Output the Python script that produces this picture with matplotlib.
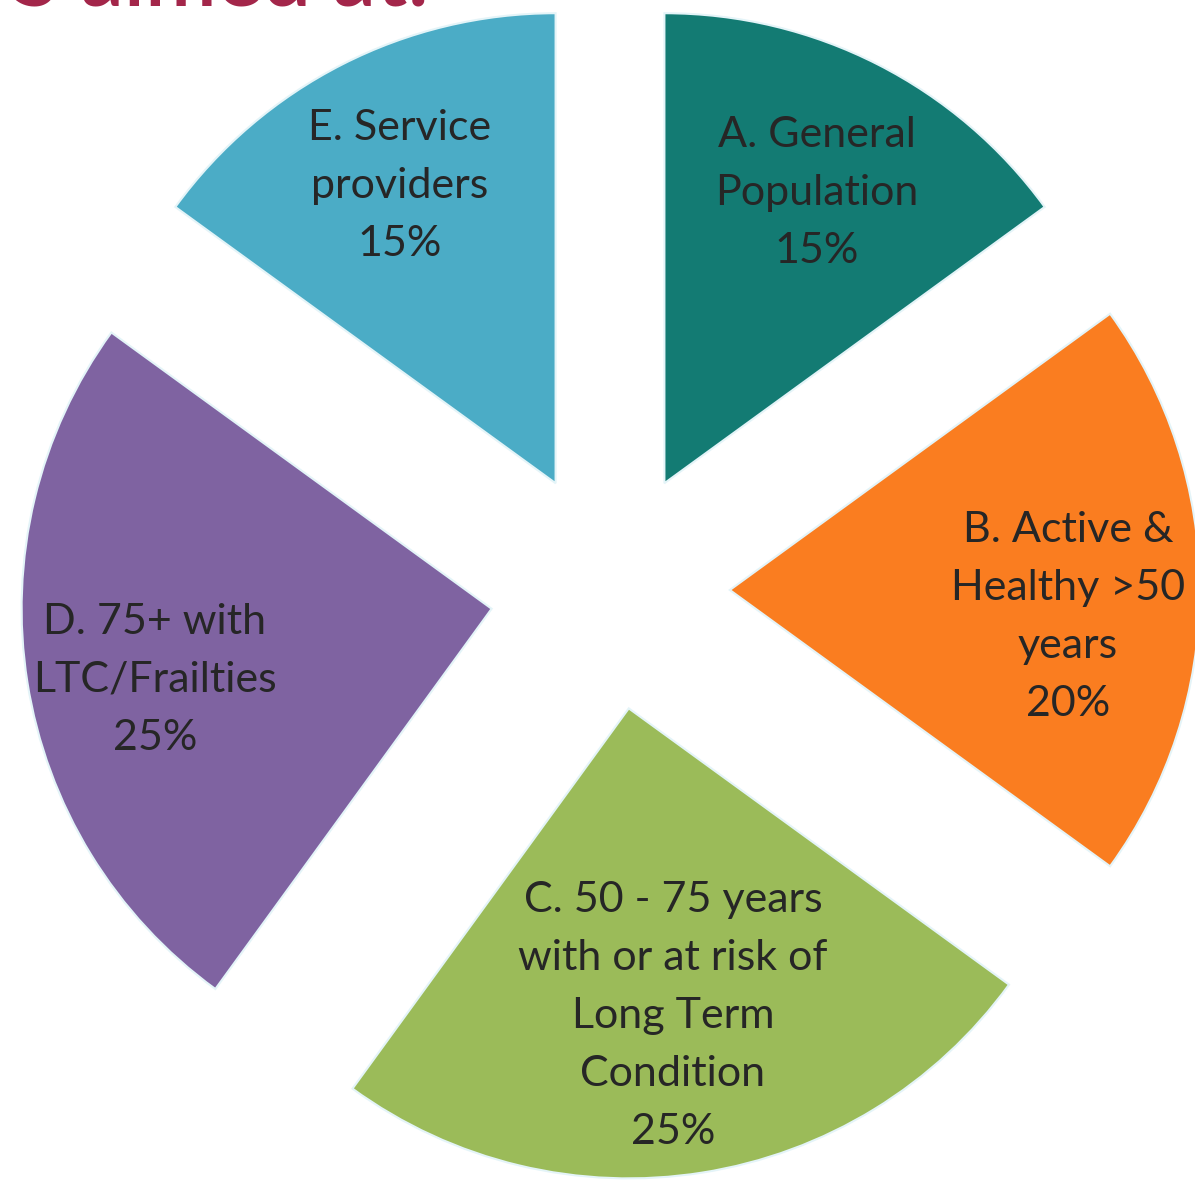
import numpy as np
import matplotlib.pyplot as plt

### Data ###
labels = ["A. General\nPopulation\n15%",
          "B. Active &\nHealthy >50\nyears\n20%",
          "C. 50 - 75 years\nwith or at risk of\nLong Term\nCondition\n25%",
          "D. 75+ with\nLTC/Frailties\n25%",
          "E. Service\nproviders\n15%"]
shares = [15, 20, 25, 25, 15]
colors = ["#137B73", "#FA7D20", "#9BBB59", "#7F63A1", "#4BACC6"]

### Layout (pixels -> data units, radius = 1) ###
W, H = 1195, 1184
R = 470.0                 # pie radius in px
cx, cy = 610.0, 590.0     # pie centre in px (from top)

fig = plt.figure(figsize=(W / 100, H / 100), dpi=100)
ax = fig.add_axes([0, 0, 1, 1])

wedges, _ = ax.pie(shares, colors=colors, startangle=90, counterclock=False,
                   explode=[0.255] * len(shares), radius=1,
                   wedgeprops=dict(edgecolor="#e4f4f8", linewidth=1.5))

# pie() resets the limits, so set them afterwards
ax.set_xlim(-cx / R, (W - cx) / R)
ax.set_ylim(-(H - cy) / R, cy / R)
ax.set_aspect("auto")
ax.axis("off")

# label positions in px (centre of text block)
label_px = [(817, 193), (1068, 617), (673, 1016), (155, 680), (400, 186)]
for lab, (px, py) in zip(labels, label_px):
    ax.text((px - cx) / R, (cy - py) / R, lab, ha="center", va="center",
            fontsize=31, family="Lato", color="#262626", linespacing=1.65)

# cropped heading at the top of the slide
fig.text(12 / W, 1 - 5 / H, "S aimed at:", ha="left", va="baseline",
         fontsize=62, family="Lato", weight="semibold", color="#A3264A")

fig.savefig("out.png", dpi=100)
